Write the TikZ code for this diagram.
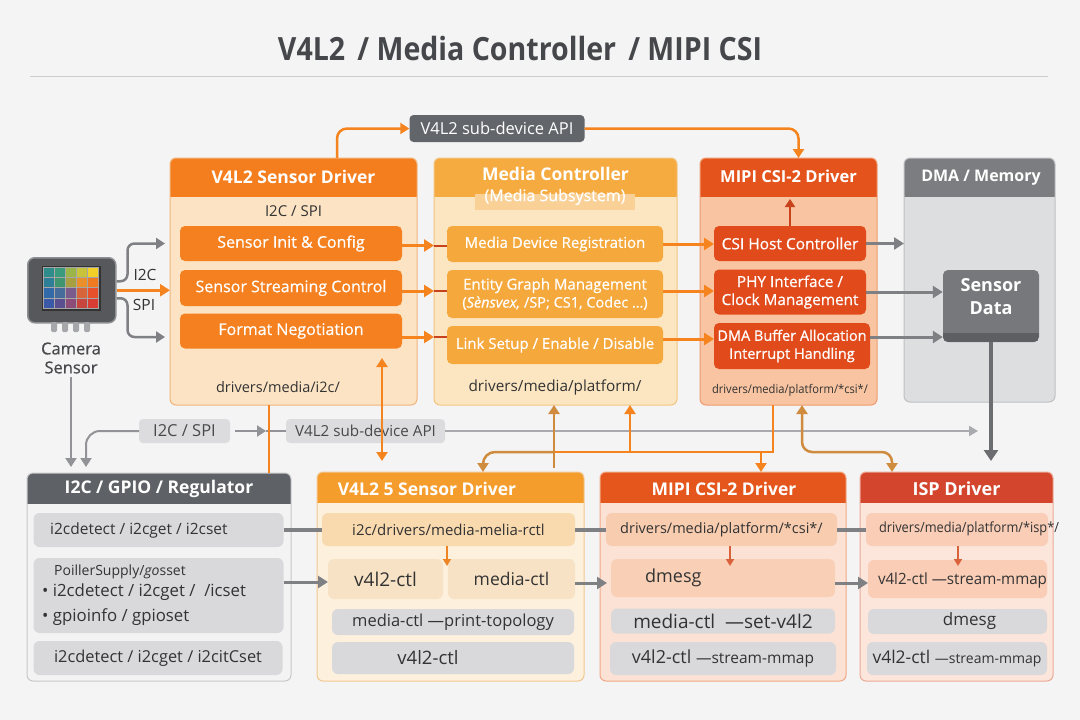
\documentclass[tikz,border=0pt]{standalone}
\usepackage{fontspec}
\setmainfont{Open Sans}
\newfontfamily\medfont{Open Sans}[FakeBold=0.6]
\usepackage{graphicx}
\usetikzlibrary{arrows.meta,calc}
\newcommand{\fsz}[2]{\fontsize{#1}{#2}\selectfont}
\definecolor{cBg}{HTML}{F4F4F4}
\definecolor{cTi}{HTML}{45474A}
\definecolor{cRule}{HTML}{CCCCCC}
\definecolor{cTx}{HTML}{333333}
\definecolor{cTx2}{HTML}{48494C}
\definecolor{cOr}{HTML}{F5841F}
\definecolor{cBr}{HTML}{CF8B3E}
\definecolor{cGa}{HTML}{7E8084}
\definecolor{cLg}{HTML}{A9AAAD}
\definecolor{cDk}{HTML}{6B6D70}
\definecolor{cSDh}{HTML}{F47E1E}\definecolor{cSDb}{HTML}{FCE3C4}\definecolor{cSDd}{HTML}{F1B57C}\definecolor{cSDs}{HTML}{F4801F}
\definecolor{cMCh}{HTML}{F6AB41}\definecolor{cMCb}{HTML}{FCE6C1}\definecolor{cMCd}{HTML}{F2C481}\definecolor{cMCs}{HTML}{F5A83B}\definecolor{cMCt}{HTML}{F9D196}
\definecolor{cMPh}{HTML}{E4531C}\definecolor{cMPb}{HTML}{F9C4A1}\definecolor{cMPd}{HTML}{EE9C70}\definecolor{cMPs}{HTML}{E14B1B}\definecolor{cMPa}{HTML}{C8431C}
\definecolor{cDMh}{HTML}{7C7D80}\definecolor{cDMb}{HTML}{DDDEE0}\definecolor{cDMd}{HTML}{BFC0C2}\definecolor{cSDa}{HTML}{77787B}\definecolor{cSDw}{HTML}{5E5F62}
\definecolor{cApi}{HTML}{62656A}
\definecolor{cLbl}{HTML}{DCDCDE}
\definecolor{cGPh}{HTML}{5E6165}\definecolor{cGPb}{HTML}{F3F3F4}\definecolor{cGPd}{HTML}{C8C8CB}
\definecolor{cGs}{HTML}{D9D9DB}
\definecolor{cV5h}{HTML}{F59D2C}\definecolor{cV5b}{HTML}{FDF0DD}\definecolor{cV5d}{HTML}{F2C791}\definecolor{cV5a}{HTML}{F9D9AE}\definecolor{cV5c}{HTML}{F8E2C5}
\definecolor{cM2h}{HTML}{E5561D}\definecolor{cM2b}{HTML}{FCE2D4}\definecolor{cM2d}{HTML}{F0A785}\definecolor{cM2a}{HTML}{F8CCAF}\definecolor{cM2c}{HTML}{F9D0B6}
\definecolor{cISh}{HTML}{D3452C}\definecolor{cISb}{HTML}{FCE5DA}\definecolor{cISd}{HTML}{EBAA96}\definecolor{cISa}{HTML}{F9CDB6}
\definecolor{cSm}{HTML}{D9623B}
\definecolor{cCam}{HTML}{56585C}\definecolor{cCamD}{HTML}{8D8F93}\definecolor{cPin}{HTML}{A5A7AA}
% sensor grid colours
\definecolor{gA}{HTML}{2E8C8A}\definecolor{gB}{HTML}{3A9A7E}\definecolor{gC}{HTML}{9BB548}\definecolor{gD}{HTML}{C9C23B}\definecolor{gE}{HTML}{F2D027}
\definecolor{gF}{HTML}{2C7F96}\definecolor{gG}{HTML}{3E9570}\definecolor{gH}{HTML}{A8A040}\definecolor{gI}{HTML}{E9902B}\definecolor{gJ}{HTML}{F07A22}
\definecolor{gK}{HTML}{3269A8}\definecolor{gL}{HTML}{456C9A}\definecolor{gM}{HTML}{7A5B8C}\definecolor{gN}{HTML}{D8643A}\definecolor{gO}{HTML}{E8502B}
\definecolor{gP}{HTML}{3A5AA8}\definecolor{gQ}{HTML}{5A4F90}\definecolor{gR}{HTML}{8C4B78}\definecolor{gS}{HTML}{C8453E}\definecolor{gT}{HTML}{D93C32}
\tikzset{
  panel/.style n args={4}{draw=#3, line width=1pt, fill=#2, rounded corners=6pt,
    inner sep=0pt, outer sep=0pt, anchor=north west,
    path picture={\fill[#1, sharp corners] (path picture bounding box.north west) rectangle ([yshift=-#4]path picture bounding box.north east);}},
  htxt/.style={text=white, font=\bfseries\fsz{17.5}{20}},
  dtxt/.style={text=cTx, font=\fsz{14.5}{17}},
  wsub/.style={rounded corners=5pt, inner sep=0pt, outer sep=0pt, text=white, align=center, font=\medfont\fsz{15}{18}},
  gsub/.style={rounded corners=6pt, inner sep=0pt, outer sep=0pt, text=cTx, align=center, font=\fsz{16}{18}},
  ltxt/.style={anchor=west, inner sep=0pt, text=cTx},
  lbox/.style={rounded corners=4pt, inner sep=0pt, outer sep=0pt, fill=cLbl, text=cTx2, font=\fsz{15.2}{17}},
  oarr/.style={draw=cOr, line width=3pt, -{Triangle[length=10pt,width=12pt]}},
  oarr2/.style={draw=cOr, line width=2.5pt, -{Triangle[length=9pt,width=11pt]}},
  oline/.style={draw=cOr, line width=2.5pt},
  barr/.style={draw=cBr, line width=2.5pt, -{Triangle[length=9pt,width=11pt]}},
  garr/.style={draw=cGa, line width=3pt, -{Triangle[length=10pt,width=12pt]}},
  garr2/.style={draw=cGa, line width=2.5pt, -{Triangle[length=9pt,width=11pt]}},
  gline4/.style={draw=cGa, line width=4pt},
  lgarr/.style={draw=cLg, line width=2pt, -{Triangle[length=9pt,width=10pt]}},
  smarr/.style={draw=cSm, line width=2pt, -{Triangle[length=7pt,width=8pt]}},
}
\begin{document}
\begin{tikzpicture}[x=1pt,y=-1pt]
\useasboundingbox (0,0) rectangle (1080,720);
\fill[cBg] (0,0) rectangle (1080,720);

% title
\node[text=cTi, font=\bfseries\fsz{32}{36}] (title) at (520,48) {\resizebox{484pt}{\height}{V4L2 \,/ Media Controller \,/ MIPI CSI}};
\draw[cRule, line width=1pt] (30,76) -- (1048,76);

% ---------- top row ----------
\node[panel={cSDh}{cSDb}{cSDd}{39pt}, minimum width=247pt, minimum height=247pt] (sd) at (170,158) {};
\node[htxt] (sdt) at (293.5,177) {V4L2 Sensor Driver};
\node[dtxt, font=\fsz{15}{17}] (sdi) at (293.5,211) {I2C / SPI};
\node[wsub, fill=cSDs, minimum width=222pt, minimum height=35pt, font=\medfont\fsz{16}{18}] (s1) at (291,243.5) {Sensor Init \& Config};
\node[wsub, fill=cSDs, minimum width=222pt, minimum height=36pt, font=\medfont\fsz{16}{18}] (s2) at (291,288) {Sensor Streaming Control};
\node[wsub, fill=cSDs, minimum width=222pt, minimum height=35pt, font=\medfont\fsz{16}{18}] (s3) at (291,331) {Format Negotiation};
\node[dtxt] (sdp) at (278,387) {drivers/media/i2c/};

\node[panel={cMCh}{cMCb}{cMCd}{39pt}, minimum width=243pt, minimum height=247pt] (mc) at (434,158) {};
\node[fill=cMCt, minimum width=160pt, minimum height=16pt, inner sep=0pt] (mctab) at (555,202) {};
\node[htxt] (mct) at (555.5,174) {Media Controller};
\node[text=white, font=\medfont\fsz{16}{18}] (mcs) at (555,197) {(Media Subsystem)};
\node[wsub, fill=cMCs, minimum width=216pt, minimum height=36pt] (m1) at (555,244) {Media Device Registration};
\node[wsub, fill=cMCs, minimum width=216pt, minimum height=48pt] (m2) at (555,294) {Entity Graph Management\\{\fsz{14.5}{17}(\textit{Sènsvex,} /SP; CS1, Codec …)}};
\node[wsub, fill=cMCs, minimum width=216pt, minimum height=38pt] (m3) at (555,345) {Link Setup / Enable / Disable};
\node[dtxt, font=\fsz{15.3}{17}] (mcp) at (555,387) {drivers/media/platform/};

\node[panel={cMPh}{cMPb}{cMPd}{39pt}, minimum width=177pt, minimum height=247pt] (mp) at (700,158) {};
\node[htxt, font=\bfseries\fsz{16.5}{20}] (mpt) at (788.5,176) {MIPI CSI-2 Driver};
\node[wsub, fill=cMPs, minimum width=152pt, minimum height=35pt, font=\medfont\fsz{15.5}{17}] (c1) at (790,243.5) {CSI Host Controller};
\node[wsub, fill=cMPs, minimum width=152pt, minimum height=45pt, font=\medfont\fsz{15.3}{18}] (c2) at (790,292) {PHY Interface /\\Clock Management};
\node[wsub, fill=cMPs, minimum width=156pt, minimum height=46pt, font=\medfont\fsz{14.5}{18}] (c3) at (792,346) {DMA Buffer Allocation\\Interrupt Handling};
\node[dtxt, font=\fsz{12}{14}] (mpp) at (790,390) {\resizebox{156pt}{\height}{drivers/media/platform/*csi*/}};
\coordinate (c1up) at (790,199);
\draw[draw=cMPa, line width=2.5pt, -{Triangle[length=8pt,width=10pt]}] (c1.north) -- (c1up);

\node[panel={cDMh}{cDMb}{cDMd}{39pt}, minimum width=151pt, minimum height=244pt] (dm) at (904,158) {};
\node[htxt, font=\bfseries\fsz{16}{20}] (dmt) at (981,178) {DMA / Memory};
\node[fill=cSDa, rounded corners=5pt, minimum width=96pt, minimum height=72pt, inner sep=0pt, text=white, align=center, font=\bfseries\fsz{18}{23},
  path picture={\fill[cSDw, sharp corners] ([yshift=9pt]path picture bounding box.south west) rectangle (path picture bounding box.south east);}] (sdat) at (991,306) {Sensor\\Data\\[-4pt]};

% top API label
\node[fill=cApi, rounded corners=4pt, minimum width=175pt, minimum height=27pt, inner sep=0pt, text=white, font=\fsz{16.5}{18}] (api) at (497,128.5) {V4L2 sub-device API};
\draw[oarr2, rounded corners=10pt] ([xshift=43.5pt]sd.north) |- (api.west);
\draw[oarr2, rounded corners=10pt] (api.east) -| ([xshift=10pt]mp.north);

% SD -> MC arrows
\coordinate (a1) at ([yshift=-2pt]s1.east);
\coordinate (a2) at ([yshift=-3pt]s2.east);
\coordinate (a3) at ([yshift=-6pt]s3.east);
\foreach \a/\m in {a1/m1,a2/m2,a3/m3}{
  \draw[draw=cMPa, line width=2pt] (\a -| mc.west) -- (\a -| \m.west);
  \draw[oarr] (\a) -- (\a -| mc.west);
}
% MC -> MIPI arrows
\coordinate (b1) at (m1.east);
\coordinate (b2) at ([yshift=3pt]m2.east);
\coordinate (b3) at ([yshift=6pt]m3.east);
\draw[oarr] (b1) -- (b1 -| c1.west);
\draw[oarr] (b2) -- (b2 -| c2.west);
\draw[oarr] (b3) -- (b3 -| c3.west);
% MIPI -> DMA arrows
\coordinate (d3) at ([yshift=9pt]c3.east);
\draw[garr] (c1.east) -- (c1.east -| dm.west);
\draw[garr] (c2.east) -- (c2.east -| sdat.west);
\draw[garr] (d3) -- (d3 -| sdat.west);
\coordinate (sdEnd) at (991,461);
\draw[draw=cDk, line width=4pt, -{Triangle[length=11pt,width=14pt]}] (sdat.south) -- (sdEnd);

% ---------- camera ----------
\node[draw=cCamD, line width=1.5pt, fill=cCam, rounded corners=7pt, minimum width=88pt, minimum height=65pt, inner sep=0pt, anchor=north west] (cam) at (27,257) {};
\node[draw=black!80, line width=1.5pt, fill=black, minimum width=57pt, minimum height=43pt, inner sep=0pt, anchor=north west] (scr) at (42,266) {};
\foreach \c/\r/\col in {0/0/gA,1/0/gB,2/0/gC,3/0/gD,4/0/gE,0/1/gF,1/1/gG,2/1/gH,3/1/gI,4/1/gJ,0/2/gK,1/2/gL,2/2/gM,3/2/gN,4/2/gO,0/3/gP,1/3/gQ,2/3/gR,3/3/gS,4/3/gT}
  \filldraw[fill=\col, draw=black!35, line width=0.3pt] (43+\c*11, 267+\r*10.25) rectangle ++(11,10.25);
\foreach \px in {51,62,73,84}
  \fill[cPin, rounded corners=1.5pt] (\px,322) rectangle ++(6,10);
\node[font=\medfont\fsz{16.5}{19}, text=cTx2, align=center] (camlbl) at (71,358) {Camera\\Sensor};
\coordinate (cu) at ([yshift=9pt]cam.east);
\coordinate (cd) at ([yshift=-8pt]cam.east);
\coordinate (s3w) at ([yshift=-6pt]s3.west);
\draw[oarr] (cam.east) -- (cam.east -| sd.west);
\draw[garr2, rounded corners=7pt, shorten >=5pt] (cu) -- ++(11,0) |- (s1.west -| sd.west);
\draw[garr2, rounded corners=7pt, shorten >=5pt] (cd) -- ++(11,0) |- (s3w -| sd.west);
\node[font=\fsz{15.5}{17}, text=cTx] (li2c) at (145,275) {I2C};
\node[font=\fsz{15.5}{17}, text=cTx] (lspi) at (144,305) {SPI};

% ---------- bottom row panels ----------
\node[panel={cGPh}{cGPb}{cGPd}{31pt}, minimum width=264pt, minimum height=208pt] (gpio) at (27,473) {};
\node[htxt] (gpt) at (159,489) {I2C / GPIO / Regulator};
\node[gsub, fill=cGs, minimum width=250pt, minimum height=34pt] (g1) at (158.5,530) {};
\node[ltxt, font=\fsz{15.5}{18}] (g1t) at (50,530) {i2cdetect / i2cget / i2cset};
\node[gsub, fill=cGs, minimum width=250pt, minimum height=75pt] (g2) at (158.5,595.5) {};
\node[ltxt, font=\fsz{14}{16}] (g2a) at (54,572) {PoillerSupply/\textit{go}sset};
\node[ltxt, font=\fsz{16.8}{19}] (g2b) at (42,592) {\textbullet\ i2cdetect / i2cget /\ \ /icset};
\node[ltxt, font=\fsz{16.8}{19}] (g2c) at (42,617) {\textbullet\ gpioinfo / gpioset};
\node[gsub, fill=cGs, minimum width=249pt, minimum height=34pt, font=\fsz{16.4}{18}] (g3) at (158,658) {i2cdetect / i2cget / i2citCset};

\node[panel={cV5h}{cV5b}{cV5d}{31pt}, minimum width=267pt, minimum height=209pt] (v5) at (317,472) {};
\node[htxt] (v5t) at (427,489) {V4L2 5 Sensor Driver};
\node[gsub, fill=cV5a, minimum width=253pt, minimum height=33pt, font=\fsz{15}{18}] (vs1) at (448.5,529.5) {i2c/drivers/media-melia-rctl};
\node[gsub, fill=cV5c, minimum width=115pt, minimum height=40pt, font=\fsz{19}{21}] (vs2) at (385.5,579) {v4l2-ctl};
\node[gsub, fill=cV5c, minimum width=127pt, minimum height=40pt, font=\fsz{17.5}{20}] (vs3) at (511.5,579) {media-ctl};
\node[gsub, fill=cGs, minimum width=242pt, minimum height=26pt, font=\fsz{16.5}{18}] (vs4) at (453,622) {media-ctl —print-topology};
\node[gsub, fill=cGs, minimum width=242pt, minimum height=32pt, font=\fsz{18.5}{20}] (vs5) at (453,658) {v4l2-ctl\hspace*{50pt}};
\coordinate (vsd) at ([xshift=-1.5pt]vs1.south);
\coordinate (vse) at (447,566);
\draw[draw=cOr!80!cBr, line width=2pt, -{Triangle[length=7pt,width=8pt]}] (vsd) -- (vse);

\node[panel={cM2h}{cM2b}{cM2d}{31pt}, minimum width=246pt, minimum height=209pt] (mp2) at (600,472) {};
\node[htxt] (m2t) at (724,489) {MIPI CSI-2 Driver};
\node[gsub, fill=cM2a, minimum width=231pt, minimum height=33pt, font=\fsz{14.5}{17}] (mb1) at (721.5,529.5) {drivers/media/platform/*csi*/};
\node[gsub, fill=cM2c, minimum width=224pt, minimum height=38pt] (mb2) at (723,578) {};
\node[ltxt, font=\fsz{18}{20}] (mb2t) at (645,578) {dmesg};
\node[gsub, fill=cGs, minimum width=224pt, minimum height=25pt, font=\fsz{19}{20}] (mb3) at (723,621) {media-ctl\ \ —set-v4l2};
\node[gsub, fill=cGs, minimum width=226pt, minimum height=33pt, font=\fsz{18}{20}] (mb4) at (723,658.5) {v4l2-ctl {\fsz{15.5}{17}—stream-mmap}};
\coordinate (mbd) at ([xshift=8.5pt]mb1.south);
\coordinate (mbe) at (730,566);
\draw[smarr] (mbd) -- (mbe);

\node[panel={cISh}{cISb}{cISd}{31pt}, minimum width=193pt, minimum height=209pt] (isp) at (860,472) {};
\node[htxt, font=\bfseries\fsz{18}{20}] (ist) at (956.5,489) {ISP Driver};
\node[gsub, fill=cISa, minimum width=182pt, minimum height=33pt] (ib1) at (957,529.5) {};
\node[text=cTx, font=\fsz{14}{17}, inner sep=0pt] (ib1t) at (969,529) {\resizebox{180pt}{\height}{drivers/media/platform/*isp*/}};
\node[gsub, fill=cISa, minimum width=179pt, minimum height=38pt] (ib2) at (957.5,579) {};
\node[text=cTx, font=\fsz{15.5}{17}, inner sep=0pt] (ib2t) at (962.5,580) {\resizebox{169pt}{\height}{v4l2-ctl —stream-mmap}};
\node[gsub, fill=cGs, minimum width=179pt, minimum height=25pt, font=\fsz{17}{19}] (ib3) at (957.5,621.5) {\hspace*{24pt}dmesg};
\node[gsub, fill=cGs, minimum width=180pt, minimum height=33pt, font=\fsz{17.5}{19}] (ib4) at (957,658.5) {v4l2-ctl {\fsz{14}{16}—stream-mmap}};
\coordinate (ibd) at ([xshift=1pt]ib1.south);
\coordinate (ibe) at (958,566);
\draw[smarr] (ibd) -- (ibe);

% bottom row connectors
\draw[gline4] (g1.east) -- (g1.east -| vs1.west);
\draw[garr] ([yshift=-3pt]g2.east |- vs2.west) -- ([yshift=-3pt]vs2.west);
\draw[gline4] (vs1.east) -- (vs1.east -| mb1.west);
\draw[garr, shorten >=4pt] ([yshift=-4pt]vs3.east) -- ([yshift=-4pt]vs3.east -| mb2.west);
\draw[gline4] (mb1.east) -- (mb1.east -| ib1.west);
\draw[garr] ([yshift=-5pt]mb2.east) -- ([yshift=-5pt]mb2.east -| ib2.west);

% ---------- middle band ----------
\node[lbox, minimum width=91pt, minimum height=24pt, font=\fsz{16.5}{18}] (i2cl) at (184.5,431) {I2C / SPI};
\node[lbox, minimum width=159pt, minimum height=24pt] (api2) at (365.5,431) {V4L2 sub-device API};
\draw[garr2, draw=cGa!85, line width=2pt, shorten >=6pt] (camlbl.south) -- (camlbl.south |- gpio.north);
\draw[garr2, draw=cGa!85, line width=2pt, rounded corners=14pt, shorten >=6pt] (i2cl.west) -| ([xshift=59pt]gpio.north west);
\coordinate (i2cTip) at (266,431);
\draw[garr2, draw=cGa!85, line width=2pt, shorten <=5pt] (i2cl.east) -- (i2cTip);
\draw[draw=cGa!85, line width=2pt] (i2cTip) -- (api2.west);
\coordinate (longEnd) at (978,431);
\draw[lgarr] (api2.east) -- (longEnd);

% orange verticals from sensor driver
\coordinate (ov) at ([xshift=-24.5pt]sd.south);
\draw[oline] (ov) -- (ov |- gpio.north);
\coordinate (dA) at (382,358);
\coordinate (dB) at (382,461);
\draw[draw=cOr, line width=2.5pt, {Triangle[length=9pt,width=11pt]}-{Triangle[length=9pt,width=11pt]}] (dA) -- (dB);

% orange network under MC / MIPI
\coordinate (mpb) at ([xshift=-15.5pt]mp.south);
\coordinate (onL) at (554,452);
\draw[oline] (mpb) |- (onL);
\coordinate (onU) at (630,452);
\draw[oarr2] (onU) -- (onU |- mc.south);
\coordinate (onD) at (761,452);
\draw[oarr2] (onD) -- (onD |- mp2.north);
% brown links
\coordinate (bU) at (554,468);
\draw[barr] (bU) -- (bU |- mc.south);
\coordinate (bD) at ([xshift=32.5pt]v5.north);
\draw[barr, rounded corners=12pt] (onL) -| (bD);
\coordinate (b2a) at ([xshift=13.5pt]mp.south);
\coordinate (b2b) at ([xshift=-64.5pt]isp.north);
\coordinate (yl) at (0,452);
\draw[draw=cBr, line width=2.5pt, rounded corners=10pt, {Triangle[length=9pt,width=11pt]}-{Triangle[length=9pt,width=11pt]}] (b2a) -- (b2a |- yl) -- (b2b |- yl) -- (b2b);
\end{tikzpicture}
\end{document}
